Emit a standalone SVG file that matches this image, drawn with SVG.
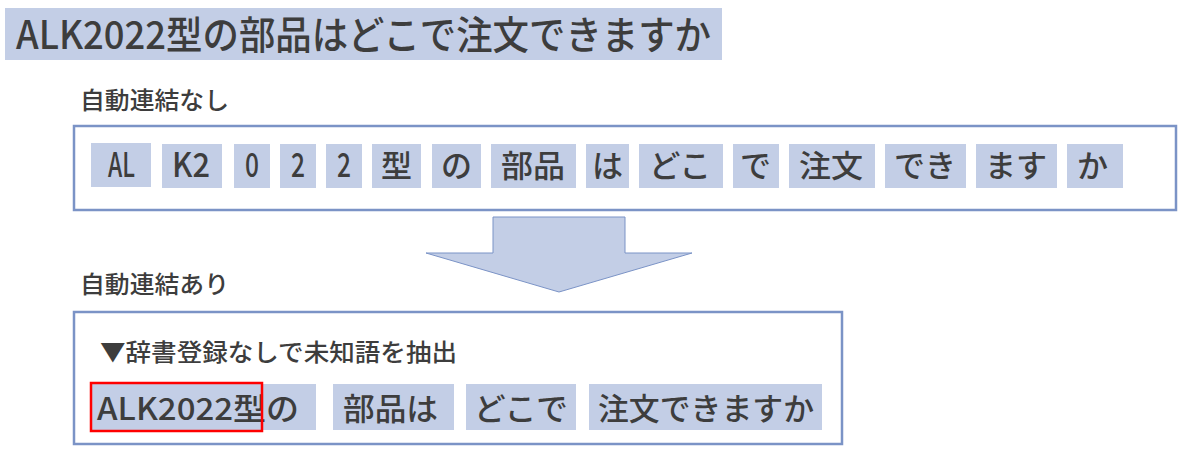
<svg xmlns="http://www.w3.org/2000/svg" width="1186" height="458" viewBox="0 0 1186 458">
<style>
.t{font-family:"Noto Sans CJK JP","Noto Sans",sans-serif;fill:#3d3d3d;font-weight:500}
.l{font-size:34px}
.tok{fill:#c3cee6}
.box{fill:#fff;stroke:#7b93c6;stroke-width:2.5}
</style>
<rect width="1186" height="458" fill="#fff"/>
<g id="title">
<rect x="5" y="8" width="717" height="52" class="tok"/>
<text x="16" y="49" class="t" font-size="39" textLength="695" lengthAdjust="spacingAndGlyphs">ALK2022型の部品はどこで注文できますか</text>
</g>
<g id="label-no">
<text x="80" y="109" class="t" font-size="24" textLength="149" lengthAdjust="spacingAndGlyphs">自動連結なし</text>
</g>
<g id="box-no">
<rect x="74" y="126" width="1102" height="84" class="box"/>
<g font-size="31">
<rect x="91" y="143" width="60" height="44" class="tok"/><text x="108" y="177" class="t l" textLength="27" lengthAdjust="spacingAndGlyphs">AL</text>
<rect x="162" y="144" width="60" height="44" class="tok"/><text x="172" y="177" class="t l" textLength="38" lengthAdjust="spacingAndGlyphs">K2</text>
<rect x="234" y="144" width="36" height="44" class="tok"/><text x="245" y="177" class="t l" textLength="14" lengthAdjust="spacingAndGlyphs">0</text>
<rect x="280" y="144" width="36" height="44" class="tok"/><text x="291" y="177" class="t l" textLength="14" lengthAdjust="spacingAndGlyphs">2</text>
<rect x="326" y="144" width="36" height="44" class="tok"/><text x="337" y="177" class="t l" textLength="14" lengthAdjust="spacingAndGlyphs">2</text>
<rect x="372" y="144" width="49" height="44" class="tok"/><text x="381" y="177" class="t" textLength="31" lengthAdjust="spacingAndGlyphs">型</text>
<rect x="432" y="144" width="49" height="44" class="tok"/><text x="441" y="177" class="t" textLength="31" lengthAdjust="spacingAndGlyphs">の</text>
<rect x="491" y="144" width="85" height="44" class="tok"/><text x="501" y="177" class="t" textLength="64" lengthAdjust="spacingAndGlyphs">部品</text>
<rect x="586" y="144" width="43" height="44" class="tok"/><text x="592" y="177" class="t" textLength="31" lengthAdjust="spacingAndGlyphs">は</text>
<rect x="639" y="144" width="84" height="44" class="tok"/><text x="649" y="177" class="t" textLength="62" lengthAdjust="spacingAndGlyphs">どこ</text>
<rect x="733" y="144" width="46" height="44" class="tok"/><text x="740" y="177" class="t" textLength="31" lengthAdjust="spacingAndGlyphs">で</text>
<rect x="789" y="144" width="86" height="44" class="tok"/><text x="799" y="177" class="t" textLength="64" lengthAdjust="spacingAndGlyphs">注文</text>
<rect x="885" y="144" width="81" height="44" class="tok"/><text x="894" y="177" class="t" textLength="62" lengthAdjust="spacingAndGlyphs">でき</text>
<rect x="976" y="144" width="81" height="44" class="tok"/><text x="985" y="177" class="t" textLength="62" lengthAdjust="spacingAndGlyphs">ます</text>
<rect x="1067" y="144" width="56" height="44" class="tok"/><text x="1077" y="177" class="t" textLength="31" lengthAdjust="spacingAndGlyphs">か</text>
</g>
</g>
<g id="connectors">
<path d="M493,217 H625 V253 H692 L559,292 L426,253 H493 Z" fill="#c3cee6" stroke="#7b93c6" stroke-width="1"/>
</g>
<g id="label-yes">
<text x="80" y="293" class="t" font-size="24" textLength="149" lengthAdjust="spacingAndGlyphs">自動連結あり</text>
</g>
<g id="box-yes">
<rect x="74" y="312" width="768" height="132" class="box"/>
<text x="100" y="361" class="t" font-size="24" textLength="357" lengthAdjust="spacingAndGlyphs">▼辞書登録なしで未知語を抽出</text>
<g font-size="31">
<rect x="90" y="384" width="226" height="46" class="tok"/><text x="97" y="420" class="t" textLength="202" lengthAdjust="spacingAndGlyphs">ALK2022型の</text>
<rect x="333" y="384" width="121" height="46" class="tok"/><text x="343" y="420" class="t" textLength="95" lengthAdjust="spacingAndGlyphs">部品は</text>
<rect x="466" y="384" width="110" height="46" class="tok"/><text x="474" y="420" class="t" textLength="94" lengthAdjust="spacingAndGlyphs">どこで</text>
<rect x="589" y="384" width="233" height="46" class="tok"/><text x="598" y="420" class="t" textLength="216" lengthAdjust="spacingAndGlyphs">注文できますか</text>
<rect x="91" y="383" width="171" height="48" fill="none" stroke="#ff0000" stroke-width="2.5"/>
</g>
</g>
</svg>
